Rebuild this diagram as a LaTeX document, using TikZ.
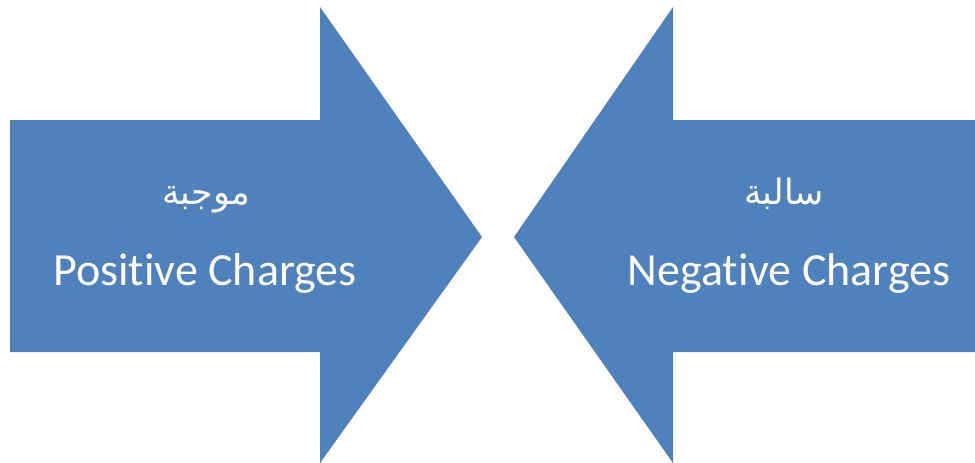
\documentclass[tikz,border=0pt]{standalone}
\usepackage{fontspec}
\setmainfont[Ligatures=NoCommon]{Carlito}
\newfontfamily\arabicfont[Script=Arabic]{DejaVu Sans}
\TeXXeTstate=1
\definecolor{arrowblue}{HTML}{4F81BD}
\tikzset{
  bigarrow/.style={fill=arrowblue, draw=none},
  latin/.style={text=white, font=\fontsize{46}{55}\selectfont, inner sep=0pt, anchor=base},
  arabic/.style={text=white, font=\arabicfont\fontsize{35}{42}\selectfont, inner sep=0pt, anchor=base}
}
\begin{document}
\begin{tikzpicture}[x=1pt,y=-1pt]
  \useasboundingbox (0,0) rectangle (975,463);
  % right-pointing arrow
  \fill[bigarrow] (10,120) -- (320,120) -- (320,7) -- (482,237) -- (320,463)
    -- (320,352) -- (10,352) -- cycle;
  % left-pointing arrow, its tail running off the right edge
  \fill[bigarrow] (975,120) -- (673,120) -- (673,7) -- (514,237) -- (673,463)
    -- (673,352) -- (975,352) -- cycle;
  % labels
  \node[arabic] (posar) at (206,204) {\beginR موجبة\endR};
  \node[latin] (posen) at (205,285) {Positive Charges};
  \node[arabic] (negar) at (784,204) {\beginR سالبة\endR};
  \node[latin] (negen) at (789,285) {Negative Charges};
\end{tikzpicture}
\end{document}
